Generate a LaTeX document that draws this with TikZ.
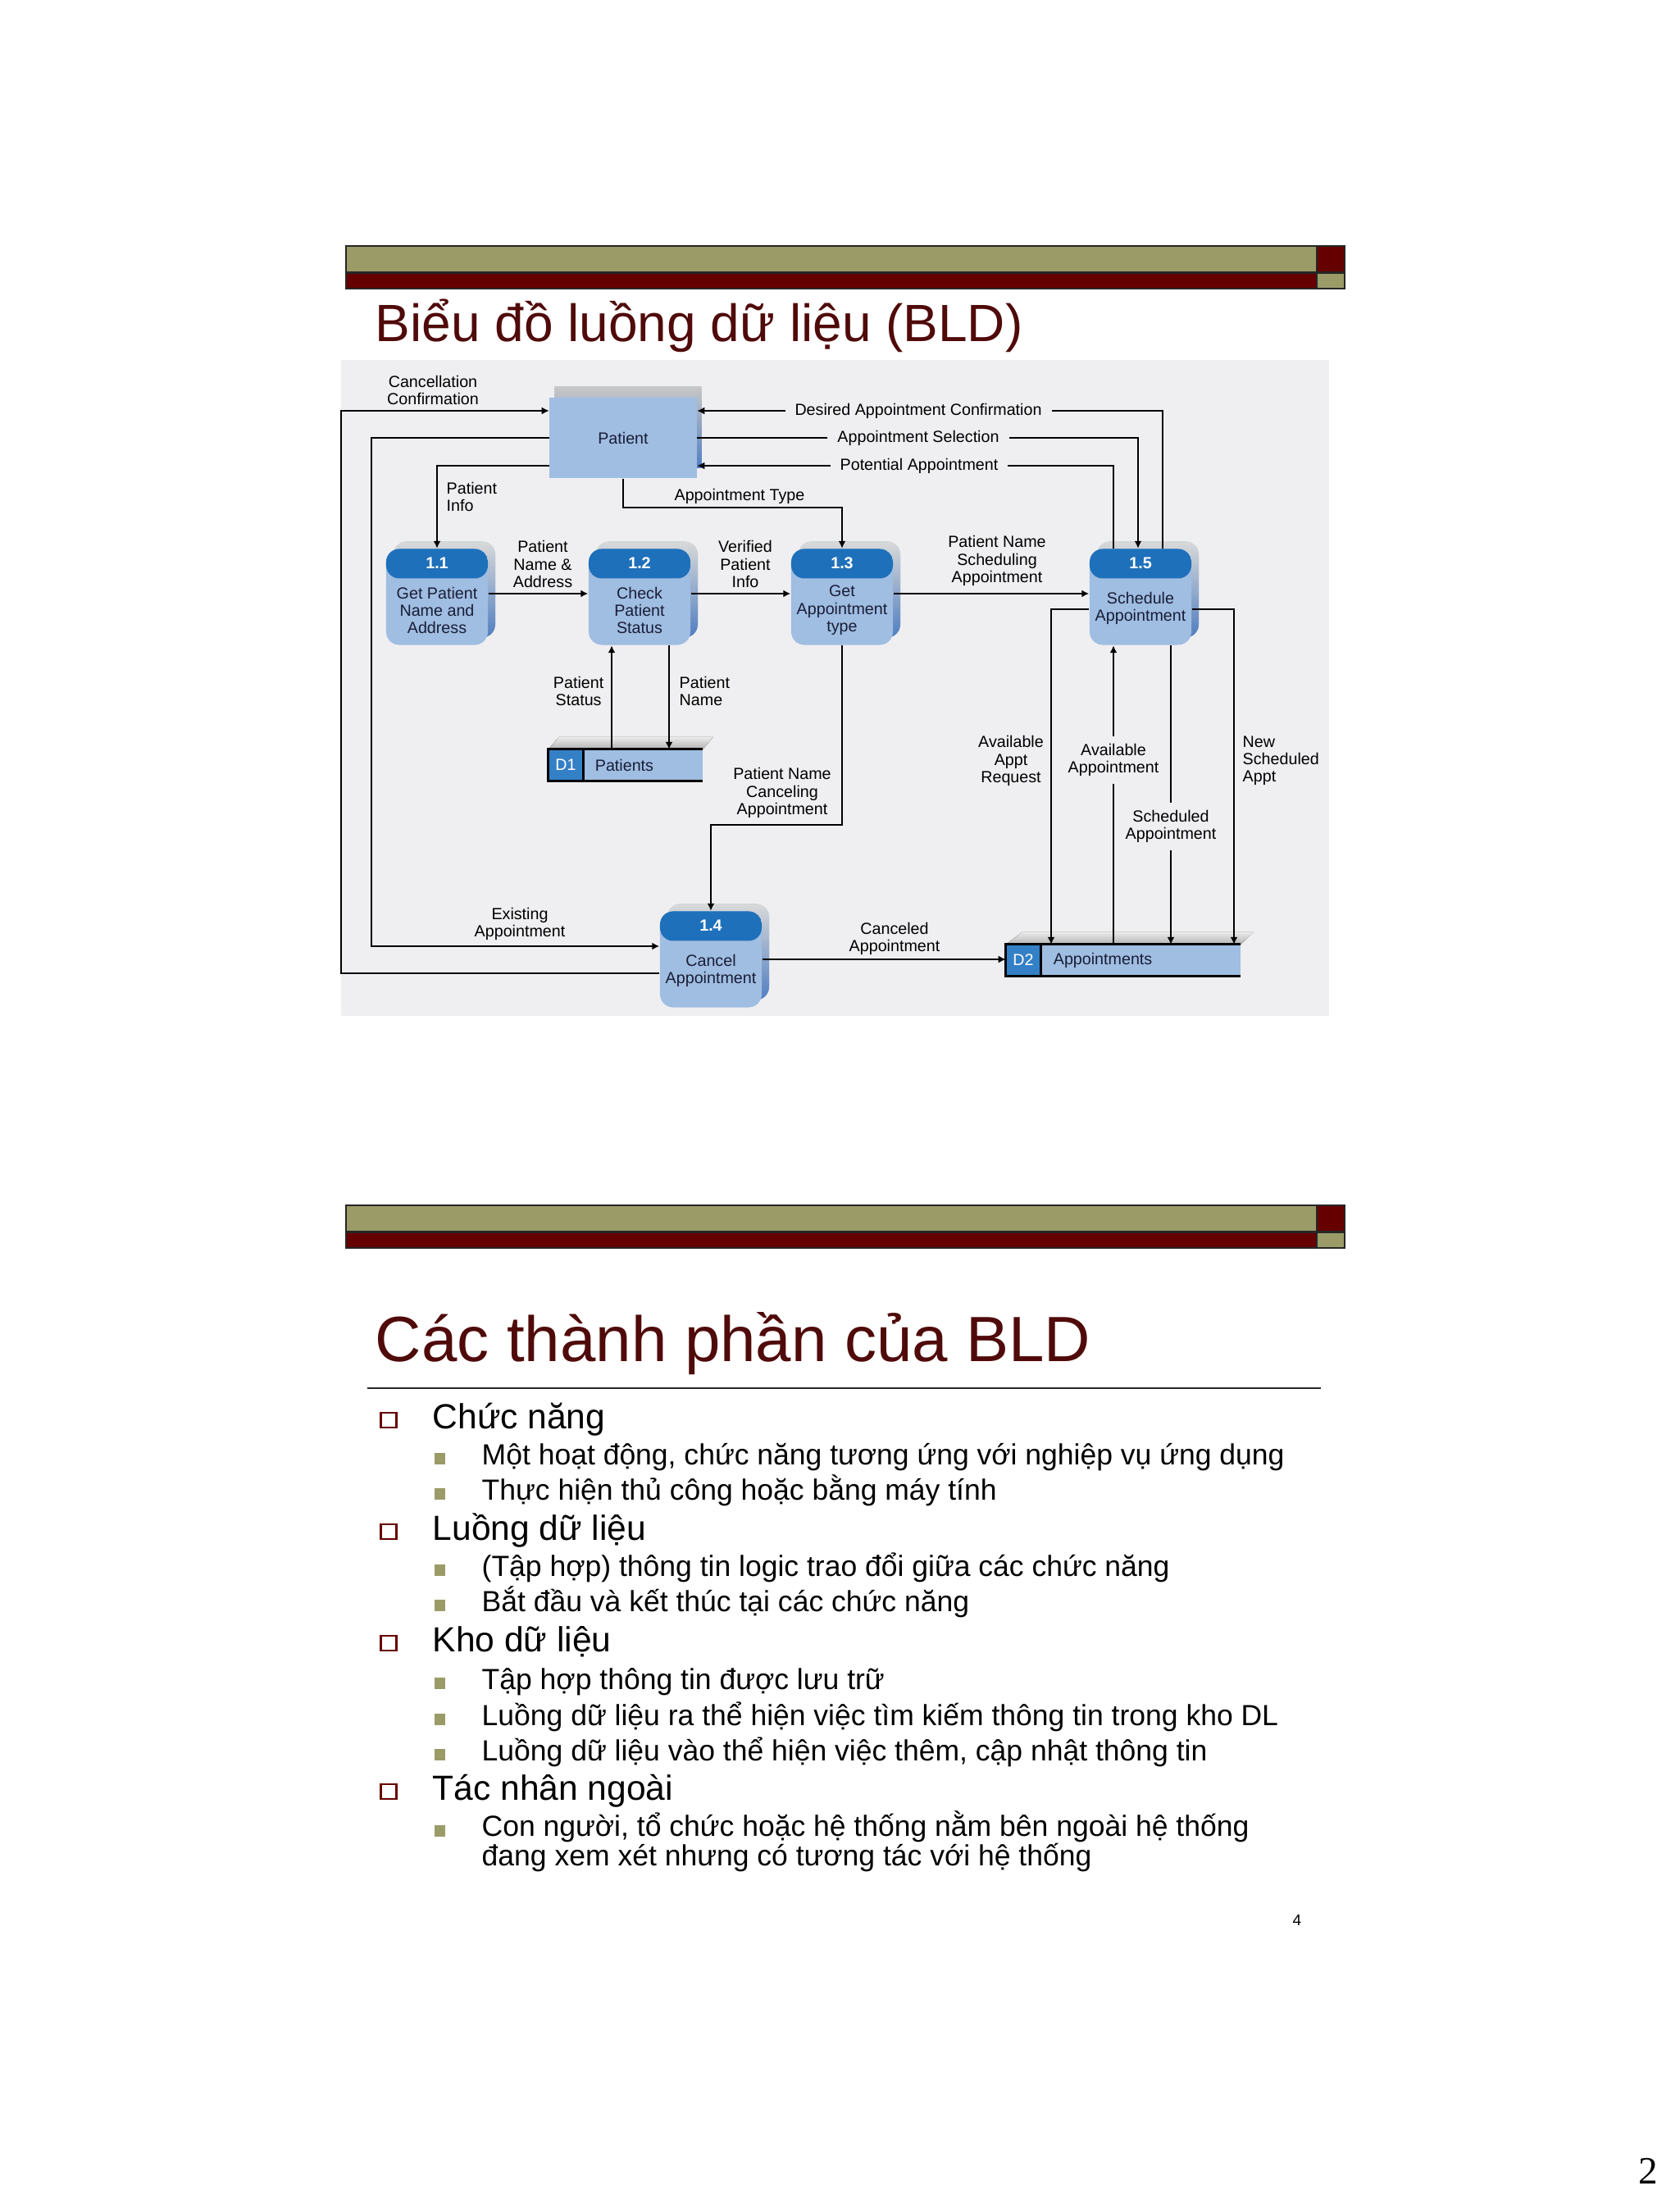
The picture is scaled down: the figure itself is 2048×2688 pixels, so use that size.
\documentclass[tikz,border=0pt]{standalone}
\usepackage{fontspec}
\setmainfont{Liberation Sans}
\newfontfamily\pagenumfont{Liberation Serif}
\usetikzlibrary{arrows.meta,shadows,positioning}
\definecolor{olivebar}{RGB}{155,155,104}
\definecolor{darkred}{RGB}{102,0,0}
\definecolor{titlered}{RGB}{80,10,10}
\definecolor{diagbg}{RGB}{239,239,241}
\definecolor{prochead}{RGB}{30,112,186}
\definecolor{procbody}{RGB}{160,189,226}
\definecolor{procside}{RGB}{80,126,192}
\definecolor{storeid}{RGB}{52,128,198}
\definecolor{boxtext}{RGB}{25,30,55}

\begin{document}
\begin{tikzpicture}[x=0.01cm, y=-0.01cm,
  olive/.style={fill=olivebar, draw=black!85, line width=0.4pt},
  maroon/.style={fill=darkred, draw=black!85, line width=0.4pt},
  slidetitle/.style={anchor=base west, inner sep=0pt, text=titlered},
  lbl/.style={font=\fontsize{5.6}{6}\selectfont, align=center, inner sep=0pt},
  gaplbl/.style={lbl, fill=diagbg, inner xsep=0.12cm, inner ysep=0.09cm},
  flow/.style={-{Latex[length=0.9mm,width=0.9mm]}, line width=0.6pt},
  proc/.style={rounded corners=0.16cm, minimum width=1.24cm, minimum height=1.17cm,
    inner sep=0pt, fill=procbody,
    path picture={\fill[prochead] (path picture bounding box.north west)
      rectangle ([yshift=-0.36cm]path picture bounding box.north east);},
    copy shadow={shadow xshift=0.09cm, shadow yshift=0.09cm, top color=black!15, bottom color=procside, draw=none}},
  procnum/.style={font=\fontsize{5.6}{6}\selectfont\bfseries, text=white, inner sep=0pt},
  proctext/.style={font=\fontsize{5.6}{6}\selectfont, align=center, text=boxtext, inner sep=0pt},
  entity/.style={minimum width=1.79cm, minimum height=0.98cm, inner sep=0pt, fill=procbody,
    font=\fontsize{5.6}{6}\selectfont, text=boxtext,
    copy shadow={shadow xshift=0.06cm, shadow yshift=0.13cm, top color=black!22, bottom color=procside, draw=none}},
  store/.style={minimum height=0.37cm, inner sep=0pt, fill=procbody},
  storeno/.style={fill=storeid, text=white, minimum width=0.41cm, minimum height=0.37cm,
    inner sep=0pt, font=\fontsize{5.6}{6}\selectfont},
  storetop/.style={top color=black!8, bottom color=black!30},
  storeline/.style={line width=0.8pt},
  mainitem/.style={anchor=base west, inner sep=0pt, font=\fontsize{12.1}{14}\selectfont},
  subitem/.style={anchor=base west, inner sep=0pt, align=left, font=\fontsize{10.1}{10}\selectfont},
  mainmark/.style={draw=darkred, line width=0.6pt, fill=white, minimum width=0.19cm, minimum height=0.18cm, inner sep=0pt},
  submark/.style={fill=olivebar, minimum width=0.13cm, minimum height=0.14cm, inner sep=0pt}
]
\useasboundingbox (0,0) rectangle (2048,2688);
\fill[white] (0,0) rectangle (2048,2688);

\foreach \oy in {0,1170} {
  \draw[olive] (422,300+\oy) rectangle (1606,332+\oy);
  \draw[maroon] (422,333+\oy) rectangle (1606,352+\oy);
  \draw[maroon] (1606,300+\oy) rectangle (1640,332+\oy);
  \draw[olive] (1606,333+\oy) rectangle (1640,352+\oy);
}

\node[slidetitle, font=\fontsize{18.2}{22}\selectfont] (title1) at (457,417) {Biểu đồ luồng dữ liệu (BLD)};

\fill[diagbg] (416,439) rectangle (1621,1239);

% processes, entity and stores
\node[entity] (pat) at (760,534) {Patient};

\node[proc] (p11) at (533,728) {};
\node[procnum] (p11n) at ([yshift=-0.18cm]p11.north) {1.1};
\node[proctext] (p11t) at ([yshift=0.43cm]p11.south) {Get Patient\\Name and\\Address};
\node[proc] (p12) at (780,728) {};
\node[procnum] (p12n) at ([yshift=-0.18cm]p12.north) {1.2};
\node[proctext] (p12t) at ([yshift=0.43cm]p12.south) {Check\\Patient\\Status};
\node[proc] (p13) at (1027,728) {};
\node[procnum] (p13n) at ([yshift=-0.18cm]p13.north) {1.3};
\node[proctext] (p13t) at ([yshift=0.43cm]p13.south) {Get\\Appointment\\type};
\node[proc] (p15) at (1391,728) {};
\node[procnum] (p15n) at ([yshift=-0.18cm]p15.north) {1.5};
\node[proctext] (p15t) at ([yshift=0.45cm]p15.south) {Schedule\\Appointment};
\node[proc] (p14) at (867,1170) {};
\node[procnum] (p14n) at ([yshift=-0.18cm]p14.north) {1.4};
\node[proctext] (p14t) at ([yshift=0.45cm]p14.south) {Cancel\\Appointment};

\node[store, minimum width=1.87cm] (d1) at (763,933) {};
\node[storeno, anchor=west] (d1no) at (d1.west) {D1};
\node[lbl, anchor=west, text=boxtext] (d1name) at ([xshift=0.14cm]d1no.east) {Patients};
\fill[storetop] (d1.north west) -- ++(13,-15) -- ++(188,0) -- (d1.north east) -- cycle;
\draw[storeline] (d1.north east) -- (d1.north west) -- (d1.south west) -- (d1.south east);
\draw[storeline] (d1no.north east) -- (d1no.south east);

\node[store, minimum width=2.85cm] (d2) at (1370,1171) {};
\node[storeno, anchor=west] (d2no) at (d2.west) {D2};
\node[lbl, anchor=west, text=boxtext] (d2name) at ([xshift=0.15cm]d2no.east) {Appointments};
\fill[storetop] (d2.north west) -- ++(20,-15) -- ++(282,0) -- (d2.north east) -- cycle;
\draw[storeline] (d2.north east) -- (d2.north west) -- (d2.south west) -- (d2.south east);
\draw[storeline] (d2no.north east) -- (d2no.south east);

% data flows
\draw[flow] (p14.west |- 0,1187) -| (416,501) -- (pat.west |- 0,501);
\draw[flow] (pat.west) -| (453,1154) -- (p14.west |- 0,1154);
\draw[flow] (pat.west |- 0,568) -| (p11.north);
\draw[flow] (pat.south) -- (pat.south |- 0,619) -| (p13.north);
\draw[flow] ([xshift=0.27cm]p15.north) |- (pat.east |- 0,501);
\draw[flow] (pat.east) -| ([xshift=-0.03cm]p15.north);
\draw[flow] ([xshift=-0.33cm]p15.north) |- (pat.east |- 0,568);
\draw[flow] (p11.east |- 0,724) -- (p12.west |- 0,724);
\draw[flow] (p12.east |- 0,724) -- (p13.west |- 0,724);
\draw[flow] (p13.east |- 0,724) -- (p15.west |- 0,724);
\draw[flow] (d1.north -| 746,0) -- (p12.south -| 746,0);
\draw[flow] (p12.south -| 816,0) -- (d1.north -| 816,0);
\draw[flow] (p13.south) -- (p13.south |- 0,1006) -| (p14.north);
\draw[flow] (p14.east) -- (p14.east -| d2.west);
\draw[flow] (p15.west |- 0,743) -| (d2.north -| 1282,0);
\draw[flow] (d2.north -| 1358,0) -- (p15.south -| 1358,0);
\draw[flow] (p15.south -| 1428,0) -- (d2.north -| 1428,0);
\draw[flow] (p15.east |- 0,743) -| (d2.north -| 1505,0);

\node[lbl] (lcancel) at (528,476) {Cancellation\\Confirmation};
\node[lbl] (lexist) at (634,1127) {Existing\\Appointment};
\node[lbl, align=left, anchor=west] (linfo) at (544,606) {Patient\\Info};
\node[lbl] (ltype) at (902,605) {Appointment Type};
\node[gaplbl] (ldesired) at (1120,501) {Desired Appointment Confirmation};
\node[gaplbl] (lselect) at (1120,534) {Appointment Selection};
\node[gaplbl] (lpotential) at (1121,568) {Potential Appointment};
\node[lbl] (lnameaddr) at (662,688) {Patient\\Name \&\\Address};
\node[lbl] (lverified) at (909,688) {Verified\\Patient\\Info};
\node[lbl] (lsched) at (1216,684) {Patient Name\\Scheduling\\Appointment};
\node[lbl, anchor=east] (lstatus) at (737,843) {Patient\\Status};
\node[lbl, align=left, anchor=west] (lpname) at (828,843) {Patient\\Name};
\node[lbl] (lcanceling) at (954,967) {Patient Name\\Canceling\\Appointment};
\node[lbl] (lcanceled) at (1091,1145) {Canceled\\Appointment};
\node[lbl] (lreq) at (1233,928) {Available\\Appt\\Request};
\node[gaplbl] (lavail) at (1358,927) {Available\\Appointment};
\node[gaplbl] (lscheduled) at (1428,1008) {Scheduled\\Appointment};
\node[lbl, align=left, anchor=west] (lnew) at (1515,928) {New\\Scheduled\\Appt};

% second slide
\node[slidetitle, font=\fontsize{22.2}{26}\selectfont] (title2) at (457,1660) {Các thành phần của BLD};
\draw[line width=0.6pt, black!85] (448,1693) -- (1611,1693);

\foreach \yy/\txt [count=\i] in {1742/Chức năng, 1878/Luồng dữ liệu, 2014/Kho dữ liệu, 2195/Tác nhân ngoài} {
  \node[mainmark] (mark\i) at (474,\yy-10) {};
  \node[mainitem] (item\i) at (527,\yy) {\txt};
}
\foreach \yy/\txt [count=\i] in {
  1786/{Một hoạt động, chức năng tương ứng với nghiệp vụ ứng dụng},
  1829/{Thực hiện thủ công hoặc bằng máy tính},
  1922/{(Tập hợp) thông tin logic trao đổi giữa các chức năng},
  1965/{Bắt đầu và kết thúc tại các chức năng},
  2060/{Tập hợp thông tin được lưu trữ},
  2104/{Luồng dữ liệu ra thể hiện việc tìm kiếm thông tin trong kho DL},
  2147/{Luồng dữ liệu vào thể hiện việc thêm, cập nhật thông tin}} {
  \node[submark] (smark\i) at (536,\yy-7) {};
  \node[subitem] (sub\i) at (587,\yy) {\txt};
}
\node[submark] (smark8) at (536,2233) {};
\node[subitem] (sub8) at (587,2275) {Con người, tổ chức hoặc hệ thống nằm bên ngoài hệ thống\\đang xem xét nhưng có tương tác với hệ thống};

\node[anchor=base, inner sep=0pt, font=\fontsize{5.4}{6}\selectfont] (pg4) at (1582,2348) {4};
\node[anchor=base, inner sep=0pt, font=\pagenumfont\fontsize{13.4}{14}\selectfont] (pg2) at (2010,2663) {2};
\end{tikzpicture}
\end{document}
